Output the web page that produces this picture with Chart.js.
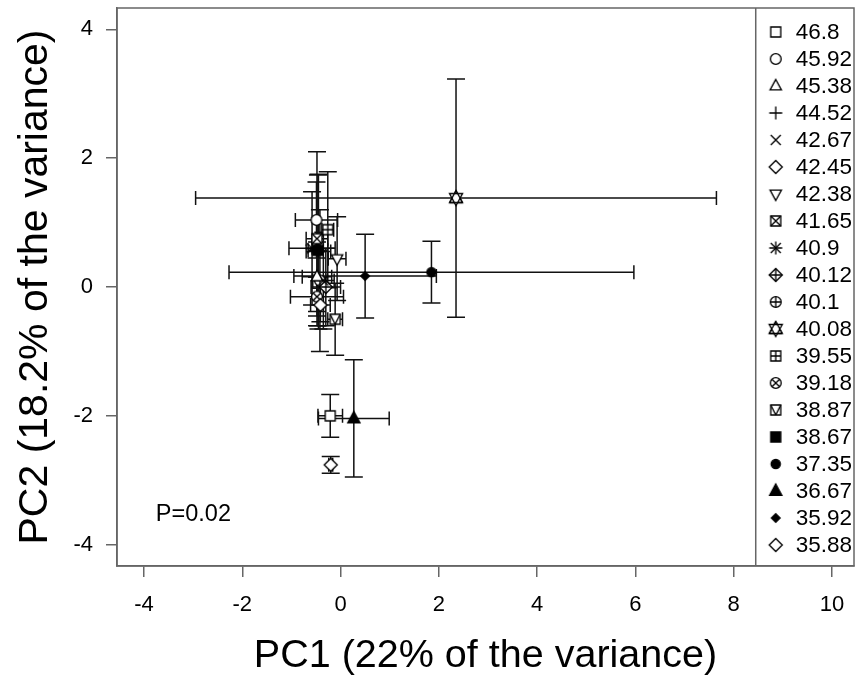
<!DOCTYPE html>
<html>
<head>
<meta charset="utf-8">
<title>PCA scores</title>
<script src="https://cdn.jsdelivr.net/npm/chart.js@4.4.1/dist/chart.umd.min.js"></script>
<style>
	html, body { margin: 0; padding: 0; background: #fff; }
	#wrap { width: 861px; height: 677px; }
</style>
</head>
<body>
<div id="wrap"><canvas id="pcaChart" width="861" height="677"></canvas></div>
<script>
// legend labels, one per group, and the R-like symbol used for each
var seriesNames = ['46.8', '45.92', '45.38', '44.52', '42.67', '42.45', '42.38', '41.65', '40.9', '40.12',
	'40.1', '40.08', '39.55', '39.18', '38.87', '38.67', '37.35', '36.67', '35.92', '35.88'];
var symbolKinds = ['square', 'circle', 'triangle', 'plus', 'cross', 'diamond', 'triangleDown', 'squareCross', 'asterisk', 'diamondPlus',
	'circlePlus', 'hexagram', 'squarePlus', 'circleCross', 'squareTriangle', 'squareFill', 'circleFill', 'triangleFill', 'diamondFill', 'diamond'];

// group means on PC1 / PC2 and error bar half widths
var pc1 = [-0.21, -0.49, -0.48, -0.45, -0.35, -0.41, -0.07, -0.48, -0.58, -0.30,
	-0.42, 2.35, -0.26, -0.48, -0.11, -0.46, 1.85, 0.27, 0.50, -0.20];
var pc2 = [-2.00, 1.04, 0.16, 0.55, 0.10, -0.28, 0.44, 0.75, 0.60, 0.00,
	0.10, 1.38, 0.89, -0.15, -0.50, 0.57, 0.23, -2.04, 0.17, -2.76];
var pc1Err = [0.25, 0.43, 0.30, 0.25, 0.22, 0.20, 0.18, 0.22, 0.47, 0.30,
	0.15, 5.30, 0.12, 0.54, 0.15, 0.20, 4.12, 0.72, 1.45, 0.04];
var pc2Err = [0.33, 0.59, 0.54, 1.20, 0.75, 0.26, 0.65, 1.35, 0.88, 0.60,
	1.10, 1.85, 0.90, 0.30, 0.56, 1.17, 0.48, 0.91, 0.65, 0.13];

var xTicks = [-4, -2, 0, 2, 4, 6, 8, 10];
var yTicks = [-4, -2, 0, 2, 4];

var pText = 'P=0.02';
var FONT = "'Liberation Sans', Arial, Helvetica, sans-serif";
var FRAME = '#666';

// draws one point symbol into a small canvas so chart.js can use it as pointStyle
function makeSymbol(kind) {
	var c = document.createElement('canvas');
	c.width = 22;
	c.height = 22;
	var g = c.getContext('2d');
	g.translate(11, 11);
	g.lineWidth = 1.35;
	g.strokeStyle = '#000';
	g.fillStyle = '#fff';

	function path(pts) {
		g.beginPath();
		g.moveTo(pts[0][0], pts[0][1]);
		for (var i = 1; i < pts.length; i++) g.lineTo(pts[i][0], pts[i][1]);
		g.closePath();
	}
	function shape(pts, filled) {
		path(pts);
		g.fillStyle = filled ? '#000' : '#fff';
		g.fill();
		g.stroke();
	}
	function square(r, filled) { shape([[-r, -r], [r, -r], [r, r], [-r, r]], filled); }
	function circle(r, filled) {
		g.beginPath();
		g.arc(0, 0, r, 0, Math.PI * 2);
		g.fillStyle = filled ? '#000' : '#fff';
		g.fill();
		g.stroke();
	}
	function triUp(r, filled) { shape([[0, -r], [r * 0.87, r * 0.6], [-r * 0.87, r * 0.6]], filled); }
	function triDown(r, filled) { shape([[0, r], [r * 0.87, -r * 0.6], [-r * 0.87, -r * 0.6]], filled); }
	function diamond(r, filled) { shape([[0, -r], [r, 0], [0, r], [-r, 0]], filled); }
	function lines(segs) {
		g.beginPath();
		segs.forEach(function(s) { g.moveTo(s[0], s[1]); g.lineTo(s[2], s[3]); });
		g.stroke();
	}
	function plus(a) { lines([[-a, 0, a, 0], [0, -a, 0, a]]); }
	function cross(a) { lines([[-a, -a, a, a], [-a, a, a, -a]]); }

	switch (kind) {
		case 'square': square(5); break;
		case 'circle': circle(5.4); break;
		case 'triangle': triUp(6.5); break;
		case 'plus': plus(6.5); break;
		case 'cross': cross(5); break;
		case 'diamond': diamond(6.5); break;
		case 'triangleDown': triDown(6.5); break;
		case 'squareCross': square(5); cross(5); break;
		case 'asterisk': plus(6.5); cross(5); break;
		case 'diamondPlus': diamond(6.5); plus(6.5); break;
		case 'circlePlus': circle(5.4); plus(5.4); break;
		case 'hexagram': triUp(7.5); triDown(7.5); lines([[0, -7.5, 6.5, 4.5], [6.5, 4.5, -6.5, 4.5], [-6.5, 4.5, 0, -7.5]]); break;
		case 'squarePlus': square(5); plus(5); break;
		case 'circleCross': circle(5.4); cross(3.8); break;
		case 'squareTriangle': square(5); lines([[-5, -5, 0, 5], [0, 5, 5, -5]]); break;
		case 'squareFill': square(5, true); break;
		case 'circleFill': circle(4.6, true); break;
		case 'triangleFill': triUp(7, true); break;
		case 'diamondFill': diamond(4.3, true); break;
	}
	return c;
}

var symbols = symbolKinds.map(makeSymbol);

var datasets = seriesNames.map(function(name, i) {
	return {
		label: name,
		data: [{ x: pc1[i], y: pc2[i] }],
		pointStyle: symbols[i],
		pointRadius: 6,
		borderColor: '#000',
		backgroundColor: '#000'
	};
});

// error bars in both directions, drawn under the symbols
var errorBarPlugin = {
	id: 'errorBars',
	beforeDatasetsDraw: function(chart) {
		var ctx = chart.ctx, xs = chart.scales.x, ys = chart.scales.y;
		ctx.save();
		ctx.strokeStyle = '#111';
		ctx.lineWidth = 1.5;
		for (var i = 0; i < pc1.length; i++) {
			var cx = xs.getPixelForValue(pc1[i]);
			var cy = ys.getPixelForValue(pc2[i]);
			var x0 = xs.getPixelForValue(pc1[i] - pc1Err[i]);
			var x1 = xs.getPixelForValue(pc1[i] + pc1Err[i]);
			var y0 = ys.getPixelForValue(pc2[i] - pc2Err[i]);
			var y1 = ys.getPixelForValue(pc2[i] + pc2Err[i]);
			ctx.beginPath();
			ctx.moveTo(x0, cy); ctx.lineTo(x1, cy);
			ctx.moveTo(x0, cy - 7); ctx.lineTo(x0, cy + 7);
			ctx.moveTo(x1, cy - 7); ctx.lineTo(x1, cy + 7);
			ctx.moveTo(cx, y0); ctx.lineTo(cx, y1);
			ctx.moveTo(cx - 9, y0); ctx.lineTo(cx + 9, y0);
			ctx.moveTo(cx - 9, y1); ctx.lineTo(cx + 9, y1);
			ctx.stroke();
		}
		ctx.restore();
	}
};

// box around the plot, the legend panel on the right and the P value
var framePlugin = {
	id: 'frameAndLegend',
	afterDraw: function(chart) {
		var ctx = chart.ctx, a = chart.chartArea, xs = chart.scales.x, ys = chart.scales.y;
		ctx.save();
		ctx.strokeStyle = FRAME;
		ctx.lineWidth = 1.5;
		ctx.strokeRect(a.left, a.top, a.right - a.left, a.bottom - a.top);
		var split = xs.getPixelForValue(8.45);
		ctx.beginPath();
		ctx.moveTo(split, a.top);
		ctx.lineTo(split, a.bottom);
		ctx.stroke();

		ctx.fillStyle = '#000';
		ctx.font = '22.5px ' + FONT;
		ctx.textBaseline = 'middle';
		ctx.textAlign = 'left';
		for (var i = 0; i < seriesNames.length; i++) {
			var rowY = a.top + 24 + i * 27;
			ctx.drawImage(symbols[i], split + 9, rowY - 11);
			ctx.fillText(seriesNames[i], split + 40, rowY + 1);
		}

		ctx.font = '23.5px ' + FONT;
		ctx.fillText(pText, xs.getPixelForValue(-3.76), ys.getPixelForValue(-3.53));
		ctx.restore();
	}
};

// the frame is fixed like R's plot region, so drop the label overhang padding
function noOverhang(scale) {
	scale.paddingTop = 0;
	scale.paddingBottom = 0;
	scale.paddingLeft = 0;
	scale.paddingRight = 0;
}

var axisGrid = { drawOnChartArea: false, color: FRAME, lineWidth: 1.5, tickLength: 11 };

new Chart(document.getElementById('pcaChart').getContext('2d'), {
	type: 'scatter',
	data: { datasets: datasets },
	options: {
		responsive: false,
		animation: false,
		devicePixelRatio: 1,
		layout: { padding: { top: 8, right: 2, left: 0, bottom: 0 } },
		plugins: { legend: { display: false }, tooltip: { enabled: false } },
		scales: {
			x: {
				type: 'linear',
				min: -4.55,
				max: 10.45,
				afterBuildTicks: function(scale) { scale.ticks = xTicks.map(function(v) { return { value: v }; }); },
				afterFit: function(scale) { scale.height = 111; noOverhang(scale); },
				ticks: { color: '#000', font: { family: FONT, size: 22 }, padding: 15, maxRotation: 0, autoSkip: false },
				grid: axisGrid,
				border: { color: FRAME, width: 1.5 },
				title: {
					display: true,
					text: 'PC1 (22% of the variance)',
					color: '#000',
					font: { family: FONT, size: 39.5, lineHeight: 1 },
					padding: { top: 0, bottom: 1 }
				}
			},
			y: {
				type: 'linear',
				min: -4.33,
				max: 4.33,
				afterBuildTicks: function(scale) { scale.ticks = yTicks.map(function(v) { return { value: v }; }); },
				afterFit: function(scale) { scale.width = 117; noOverhang(scale); },
				ticks: { color: '#000', font: { family: FONT, size: 22 }, padding: 13, maxRotation: 0, autoSkip: false },
				grid: axisGrid,
				border: { color: FRAME, width: 1.5 },
				title: {
					display: true,
					text: 'PC2 (18.2% of the variance)',
					color: '#000',
					font: { family: FONT, size: 41, lineHeight: 1 },
					padding: { top: 15, bottom: 0 }
				}
			}
		}
	},
	plugins: [errorBarPlugin, framePlugin]
});
</script>
</body>
</html>
